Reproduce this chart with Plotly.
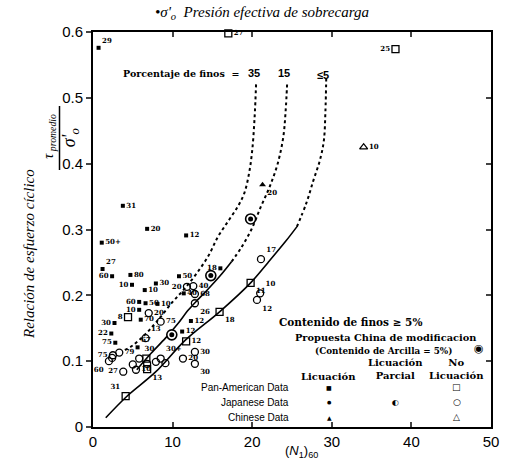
import plotly.graph_objects as go

# ---------------- data ----------------
# Curves: fines content 5%, 15%, 35%
c5_solid_n = [1.6, 4.2, 7.9, 11.6, 15.9, 19.8, 22.0, 24.2, 25.6]
c5_solid_csr = [0.014, 0.046, 0.084, 0.132, 0.175, 0.219, 0.250, 0.282, 0.304]
c5_dash_n = [25.6, 26.8, 27.7, 28.5, 29.0, 29.2, 29.3]
c5_dash_csr = [0.304, 0.340, 0.375, 0.405, 0.435, 0.480, 0.530]

c15_solid_n = [5.5, 7.3, 9.1, 10.6, 12.0, 13.3, 14.5, 16.0, 17.4]
c15_solid_csr = [0.087, 0.112, 0.135, 0.156, 0.178, 0.195, 0.210, 0.230, 0.251]
c15_dash_n = [17.4, 18.6, 19.9, 21.1, 22.2, 23.2, 23.9, 24.2, 24.4]
c15_dash_csr = [0.251, 0.272, 0.300, 0.335, 0.365, 0.400, 0.440, 0.480, 0.525]

c35_dash_n = [4.0, 5.0, 6.5, 8.0, 10.0, 11.5, 13.0, 14.5, 15.7, 17.0, 18.2, 19.0, 19.6, 20.0, 20.3, 20.5]
c35_dash_csr = [0.117, 0.124, 0.140, 0.160, 0.190, 0.210, 0.233, 0.260, 0.289, 0.313, 0.335, 0.355, 0.385, 0.420, 0.470, 0.525]

# Liquefaction (filled marks)
liq_n = [0.7, 3.75, 6.8, 11.7, 1.1, 1.2, 2.4, 4.7, 4.9, 7.9, 6.5, 10.8, 16.0, 5.8, 6.6,
         8.1, 5.8, 6.0, 2.7, 2.3, 2.8, 11.4, 12.3, 11.2, 5.6]
liq_csr = [0.576, 0.336, 0.301, 0.291, 0.280, 0.240, 0.229, 0.231, 0.216, 0.218, 0.208, 0.229,
           0.241, 0.190, 0.188, 0.187, 0.178, 0.163, 0.158, 0.142, 0.128, 0.203, 0.161, 0.145, 0.121]
liq_lab = ["29", "31", "20", "12", "50+", "27", "60", "80", "10", "30", "10", "50", "18", "60", "50",
           "10", "10", "70", "30", "22", "75", "40", "12", "12", "67"]

# Chinese liquefaction (filled triangle)
liqc_n = [21.3]
liqc_csr = [0.368]
liqc_lab = ["20"]

# Chinese modification proposal
china_n = [14.8, 19.8, 9.9]
china_csr = [0.230, 0.316, 0.140]

# No liquefaction - Pan-American (open squares), labelled
nsq_n = [17.0, 38.0, 19.8, 15.9, 4.4, 11.7, 6.8, 4.1]
nsq_csr = [0.598, 0.574, 0.219, 0.175, 0.167, 0.130, 0.088, 0.047]
nsq_lab = ["27", "25", "11", "18", "8", "12", "13", "31"]
# unlabelled open squares
nsq2_n = [6.7]
nsq2_csr = [0.104]

# No liquefaction - Japanese (open circles), labelled
nci_n = [21.1, 21.0, 20.6, 11.8, 12.6, 12.8, 12.8, 7.0, 8.5, 6.6, 2.5, 3.3, 2.0,
         5.8, 5.4, 3.8, 8.5, 12.8, 11.3, 12.8]
nci_csr = [0.255, 0.203, 0.193, 0.213, 0.214, 0.202, 0.188, 0.173, 0.160, 0.135, 0.109, 0.113,
           0.100, 0.104, 0.087, 0.084, 0.104, 0.114, 0.104, 0.096]
nci_lab = ["17", "10", "12", "20", "40", "68", "26", "20", "75", "13", "75", "79", "60",
           "30", "10", "27", "30+", "30", "20", "30"]
# unlabelled open circles
nci2_n = [2.4, 5.0, 7.9, 9.1, 6.8]
nci2_csr = [0.105, 0.095, 0.099, 0.097, 0.096]

# No liquefaction - Chinese (open triangle)
ntr_n = [34.0]
ntr_csr = [0.425]
ntr_lab = ["10"]

x_ticks = [0, 10, 20, 30, 40, 50]
y_ticks = [0, 0.1, 0.2, 0.3, 0.4, 0.5, 0.6]
y_ticktext = ["0", "0.1", "0.2", "0.3", "0.4", "0.5", "0.6"]

# ---------------- styling ----------------
W, H = 511, 465
ML, MR, MT, MB = 93, 14, 32, 38
PW, PH = W - ML - MR, H - MT - MB
SERIF = "Liberation Serif"
BSERIF = "DejaVu Serif"
SANS = "Liberation Sans"


def px(x, y):
    return (x - ML) / PW, (H - MB - y) / PH


liq_pos = ["top right", "middle right", "middle right", "middle right", "middle right", "top right",
           "middle left", "middle right", "middle left", "middle right", "middle right", "middle right",
           "middle left", "middle left", "middle right", "middle right", "middle left", "middle right",
           "middle left", "middle left", "middle left", "middle right", "middle right", "middle right",
           "top right"]
nsq_pos = ["middle right", "middle left", "bottom right", "bottom right", "middle left", "middle right",
           "bottom right", "top left"]
nci_pos = ["top right", "top right", "bottom right", "middle left", "middle right", "middle right",
           "bottom right", "middle right", "middle right", "top right", "middle left", "middle right",
           "bottom left", "top right", "middle right", "middle left", "top right", "middle right",
           "middle right", "bottom right"]

lab_font = dict(family=BSERIF, size=7, color="black", weight="bold")
open_line = dict(width=1.3, color="black")

fig = go.Figure()

# curves
for xs, ys, dash, w in [(c5_solid_n, c5_solid_csr, "solid", 1.6),
                        (c5_dash_n, c5_dash_csr, "3px,3px", 2.0),
                        (c15_solid_n, c15_solid_csr, "solid", 1.6),
                        (c15_dash_n, c15_dash_csr, "3px,3px", 2.0),
                        (c35_dash_n, c35_dash_csr, "3px,3px", 2.0)]:
    fig.add_trace(go.Scatter(x=xs, y=ys, mode="lines",
                             line=dict(color="black", width=w, dash=dash, shape="spline"),
                             hoverinfo="skip", showlegend=False))

# points
fig.add_trace(go.Scatter(x=liq_n, y=liq_csr, mode="markers+text", text=liq_lab, textposition=liq_pos,
                         textfont=lab_font, cliponaxis=False,
                         marker=dict(symbol="square", size=4, color="black"), showlegend=False))
fig.add_trace(go.Scatter(x=liqc_n, y=liqc_csr, mode="markers+text", text=liqc_lab, textposition="bottom right",
                         textfont=lab_font, cliponaxis=False,
                         marker=dict(symbol="triangle-up", size=6, color="black"), showlegend=False))
fig.add_trace(go.Scatter(x=china_n, y=china_csr, mode="markers", cliponaxis=False,
                         marker=dict(symbol="circle", size=10, color="white",
                                     line=dict(color="black", width=1.6)), showlegend=False))
fig.add_trace(go.Scatter(x=china_n, y=china_csr, mode="markers", cliponaxis=False,
                         marker=dict(symbol="circle", size=5, color="black"), showlegend=False))
fig.add_trace(go.Scatter(x=nsq_n, y=nsq_csr, mode="markers+text", text=nsq_lab, textposition=nsq_pos,
                         textfont=lab_font, cliponaxis=False,
                         marker=dict(symbol="square-open", size=7, color="black", line=open_line),
                         showlegend=False))
fig.add_trace(go.Scatter(x=nsq2_n, y=nsq2_csr, mode="markers", cliponaxis=False,
                         marker=dict(symbol="square-open", size=7, color="black", line=open_line),
                         showlegend=False))
fig.add_trace(go.Scatter(x=nci_n, y=nci_csr, mode="markers+text", text=nci_lab, textposition=nci_pos,
                         textfont=lab_font, cliponaxis=False,
                         marker=dict(symbol="circle-open", size=7, color="black", line=open_line),
                         showlegend=False))
fig.add_trace(go.Scatter(x=nci2_n, y=nci2_csr, mode="markers", cliponaxis=False,
                         marker=dict(symbol="circle-open", size=7, color="black", line=open_line),
                         showlegend=False))
fig.add_trace(go.Scatter(x=ntr_n, y=ntr_csr, mode="markers+text", text=ntr_lab, textposition="middle right",
                         textfont=lab_font, cliponaxis=False,
                         marker=dict(symbol="triangle-up-open", size=7, color="black", line=open_line),
                         showlegend=False))

ann = []


def add_text(x, y, text, size=11, family=BSERIF, weight="bold", italic=False, xanchor="center",
             angle=0, align="center"):
    xp, yp = px(x, y)
    ann.append(dict(x=xp, y=yp, xref="paper", yref="paper", text=text, showarrow=False,
                    xanchor=xanchor, yanchor="middle", textangle=angle, align=align,
                    font=dict(family=family, size=size, color="black", weight=weight,
                              style="italic" if italic else "normal")))


# title & axis titles
add_text(265, 13, "•σ'<sub>o</sub>  Presión efectiva de sobrecarga", size=15, family=SERIF,
         weight="normal", italic=True)
add_text(305, 452, "(<i>N</i><sub>1</sub>)<sub>60</sub>", size=13, family=SANS, weight="normal")
add_text(28, 254, "Relación de esfuerzo cíclico", size=15, family=SERIF, weight="normal",
         italic=True, angle=-90)
add_text(48, 136, "τ<sub> promedio</sub>", size=14, family=SERIF, weight="normal", italic=True, angle=-90)
add_text(70, 138, "σ'<sub>o</sub>", size=18, family=SERIF, weight="normal", italic=True, angle=-90)

# curve labels
add_text(243, 73, "Porcentaje de finos  =", size=9.5, xanchor="right")
add_text(256, 73, "35", size=11, family=SANS)
add_text(287, 73, "15", size=11, family=SANS)
add_text(326, 75, "≤5", size=11, family=SANS)

# legend table
add_text(354, 322, "Contenido de finos ≥ 5%", size=10.5)
add_text(390, 337, "Propuesta China de modificacion", size=9.8)
add_text(388, 351, "(Contenido de Arcilla = 5%)", size=8.8)
add_text(485, 348, "◉", size=11, family="DejaVu Sans", weight="normal")
add_text(332, 376, "Licuación", size=10)
add_text(400, 369, "Licuación<br>Parcial", size=10)
add_text(462, 369, "No<br>Licuación", size=10)
add_text(294, 387, "Pan-American Data", size=10, family=SANS, weight="normal", xanchor="right")
add_text(294, 402, "Japanese Data", size=10, family=SANS, weight="normal", xanchor="right")
add_text(294, 417, "Chinese Data", size=10, family=SANS, weight="normal", xanchor="right")
add_text(333, 387, "■", size=6, family="DejaVu Sans", weight="normal")
add_text(333, 402, "●", size=5, family="DejaVu Sans", weight="normal")
add_text(333, 417, "▲", size=6, family="DejaVu Sans", weight="normal")
add_text(400, 402, "◐", size=8, family="DejaVu Sans", weight="normal")
add_text(462, 387, "□", size=9, family="DejaVu Sans", weight="normal")
add_text(462, 402, "○", size=9, family="DejaVu Sans", weight="normal")
add_text(462, 417, "△", size=9, family="DejaVu Sans", weight="normal")

fvx, fvy0 = px(59, 106)
_, fvy1 = px(59, 170)

axis_common = dict(showline=True, linewidth=2, linecolor="black", showgrid=False, zeroline=False,
                   tickfont=dict(family=SANS, size=15, color="black"))

fig.update_layout(
    width=W, height=H,
    margin=dict(l=ML, r=MR, t=MT, b=MB, pad=0),
    paper_bgcolor="white", plot_bgcolor="white",
    showlegend=False,
    annotations=ann,
    shapes=[dict(type="line", xref="paper", yref="paper", x0=fvx, x1=fvx, y0=fvy1, y1=fvy0,
                 line=dict(color="black", width=1.5))],
    xaxis=dict(range=[0, 50], tickvals=x_ticks, ticks="inside", ticklen=5, tickwidth=1.5,
               mirror="ticks", **axis_common),
    yaxis=dict(range=[0, 0.6], tickvals=y_ticks, ticktext=y_ticktext,
               ticks="outside", ticklen=5, tickwidth=1.5, mirror=False, **axis_common),
    yaxis2=dict(range=[0, 0.6], tickvals=y_ticks, overlaying="y", side="right", matches="y",
                ticks="inside", ticklen=5, tickwidth=1.5, showticklabels=False,
                showline=True, linewidth=2, linecolor="black", showgrid=False, zeroline=False),
)
# invisible trace to activate the right-hand axis
fig.add_trace(go.Scatter(x=[None], y=[None], yaxis="y2", showlegend=False, hoverinfo="skip"))

fig.write_html("out.html")
